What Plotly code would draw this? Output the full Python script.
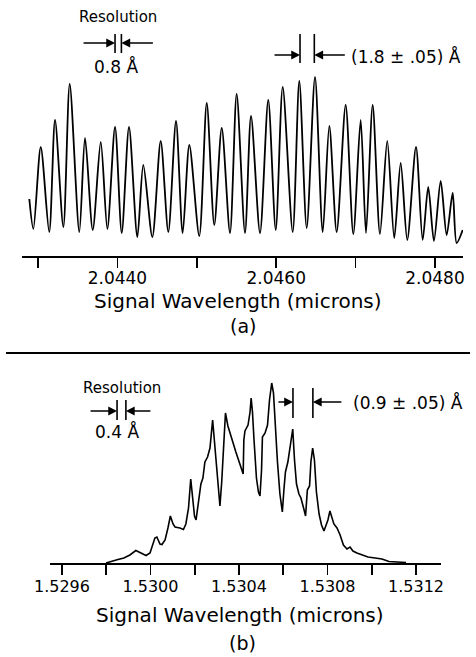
import plotly.graph_objects as go

# ---------------- Panel (a) data: traced spectrum ----------------
wl_a = [2.042890, 2.042941, 2.043034, 2.043141, 2.043214, 2.043319, 2.043399, 2.043520,
        2.043592, 2.043689, 2.043790, 2.043873, 2.043970, 2.044054, 2.044146, 2.044251,
        2.044326, 2.044440, 2.044545, 2.044641, 2.044738, 2.044822, 2.044906, 2.045031,
        2.045125, 2.045220, 2.045314, 2.045418, 2.045502, 2.045607, 2.045683, 2.045796,
        2.045900, 2.045994, 2.046082, 2.046208, 2.046291, 2.046384, 2.046489, 2.046586,
        2.046669, 2.046762, 2.046875, 2.046971, 2.047064, 2.047131, 2.047215, 2.047307,
        2.047399, 2.047487, 2.047568, 2.047651, 2.047761, 2.047845, 2.047915, 2.047987,
        2.048072, 2.048147, 2.048223, 2.048273, 2.048349]
int_a = [57, 27, 109, 24, 136, 29, 172, 24,
         118, 26, 114, 27, 129, 23, 129, 19,
         91, 19, 115, 24, 135, 23, 111, 20,
         153, 31, 128, 23, 162, 23, 140, 23,
         156, 26, 169, 24, 175, 28, 179, 24,
         130, 24, 151, 22, 136, 23, 151, 22,
         115, 18, 93, 16, 109, 16, 69, 15,
         75, 21, 63, 13, 26]

ticks_a = [2.0430, 2.0440, 2.0450, 2.0460, 2.0470, 2.0480]
ticklabels_a = ["", "2.0440", "", "2.0460", "", "2.0480"]
range_a = [2.042798, 2.048353]

# ---------------- Panel (b) data: traced spectrum ----------------
wl_b = [1.529799, 1.529826, 1.529853, 1.529880, 1.529907, 1.529934, 1.529957, 1.529980,
        1.529998, 1.530011, 1.530020, 1.530029, 1.530036, 1.530043, 1.530052, 1.530066,
        1.530079, 1.530090, 1.530102, 1.530111, 1.530133, 1.530149, 1.530160, 1.530172,
        1.530182, 1.530190, 1.530199, 1.530206, 1.530215, 1.530228, 1.530237, 1.530246,
        1.530258, 1.530269, 1.530281, 1.530289, 1.530296, 1.530305, 1.530314, 1.530322,
        1.530330, 1.530339, 1.530350, 1.530364, 1.530375, 1.530386, 1.530398, 1.530409,
        1.530419, 1.530422, 1.530427, 1.530441, 1.530450, 1.530455, 1.530461, 1.530468,
        1.530479, 1.530488, 1.530495, 1.530502, 1.530506, 1.530518, 1.530529, 1.530538,
        1.530548, 1.530556, 1.530565, 1.530574, 1.530585, 1.530596, 1.530603, 1.530610,
        1.530621, 1.530633, 1.530643, 1.530651, 1.530660, 1.530671, 1.530680, 1.530692,
        1.530701, 1.530709, 1.530719, 1.530725, 1.530733, 1.530741, 1.530750, 1.530762,
        1.530773, 1.530784, 1.530793, 1.530802, 1.530811, 1.530820, 1.530829, 1.530843,
        1.530857, 1.530872, 1.530888, 1.530902, 1.530915, 1.530933, 1.530956, 1.530983,
        1.531015, 1.531046, 1.531078, 1.531119, 1.531155]
int_b = [0, 2, 3.5, 5, 8, 12.5, 10, 7.5,
         10, 19, 25, 26, 22, 19, 18.5, 23,
         35, 47, 39, 36, 35, 33.5, 39, 55,
         84, 63, 47, 43, 58, 79, 85, 101,
         106, 115, 143, 123, 106, 79, 57, 81,
         118, 150, 137, 126, 117, 111, 103, 95,
         89, 123, 132, 138, 151, 165, 151, 123,
         85, 71, 67, 93, 126, 130, 138, 163,
         180, 170, 133, 101, 69, 51, 73, 91,
         101, 117, 134, 103, 79, 69, 65, 55,
         47, 73, 77, 101, 115, 103, 71, 49,
         38, 32, 37, 43, 52, 45, 39, 35,
         28, 18, 14, 16, 12, 10, 8, 6,
         5, 4, 1.5, 1, 0.5]

ticks_b = [1.5296, 1.5298, 1.5300, 1.5302, 1.5304, 1.5306, 1.5308, 1.5310, 1.5312]
ticklabels_b = ["1.5296", "", "1.5300", "", "1.5304", "", "1.5308", "", "1.5312"]
range_b = [1.529546, 1.531313]

# annotation values (microns)
res_a_start, res_a = 2.043970, 0.00008      # 0.8 Å
sp_a_start, sp_a = 2.046300, 0.00018        # 1.8 Å
res_b_start, res_b = 1.529849, 0.00004      # 0.4 Å
sp_b_start, sp_b = 1.530644, 0.00009        # 0.9 Å

W, H = 476, 657
FONT = "DejaVu Sans"


def px(x):
    return x / W


def py(y):
    return 1 - y / H


fig = go.Figure()
fig.add_trace(go.Scatter(x=wl_a, y=int_a, mode="lines", xaxis="x", yaxis="y",
                         line=dict(color="black", width=1.8, shape="spline", smoothing=0.8),
                         showlegend=False, hoverinfo="skip"))
fig.add_trace(go.Scatter(x=wl_b, y=int_b, mode="lines", xaxis="x2", yaxis="y2",
                         line=dict(color="black", width=1.6),
                         showlegend=False, hoverinfo="skip"))

axis_common = dict(showline=True, linecolor="black", linewidth=2, ticks="outside",
                   ticklen=10, tickwidth=1.6, tickcolor="black", showgrid=False,
                   zeroline=False, fixedrange=True, automargin=False)

fig.update_layout(
    template="none",
    width=W, height=H, margin=dict(l=0, r=0, t=0, b=0, pad=0), autosize=False,
    paper_bgcolor="white", plot_bgcolor="white",
    font=dict(family=FONT, color="black"),
    xaxis=dict(domain=[px(22), px(463)], range=range_a, anchor="y",
               tickvals=ticks_a, ticktext=ticklabels_a, ticklabelstandoff=-4,
               tickfont=dict(size=17, family=FONT), **axis_common),
    yaxis=dict(domain=[py(256), py(70)], range=[0, 186], visible=False,
               anchor="x", fixedrange=True, automargin=False),
    xaxis2=dict(domain=[px(50), px(441)], range=range_b, anchor="y2",
                tickvals=ticks_b, ticktext=ticklabels_b, ticklabelstandoff=-2,
                tickfont=dict(size=16, family=FONT), **axis_common),
    yaxis2=dict(domain=[py(563), py(378)], range=[0, 185], visible=False,
                anchor="x2", fixedrange=True, automargin=False),
)

shapes = []
annos = []


def bar(xref, xv, y0, y1):
    shapes.append(dict(type="line", xref=xref, yref="paper", x0=xv, x1=xv,
                       y0=py(y0), y1=py(y1), line=dict(color="black", width=1.6)))


def arrow(xref, xv, yv, dx):
    annos.append(dict(xref=xref, yref="paper", x=xv, y=py(yv), ax=dx, ay=0,
                      text="", showarrow=True, arrowhead=2, arrowsize=1.1,
                      arrowwidth=1.6, arrowcolor="black"))


def text(t, x, y, size, xanchor="center"):
    annos.append(dict(xref="paper", yref="paper", x=px(x), y=py(y), text=t,
                      showarrow=False, xanchor=xanchor, yanchor="middle",
                      font=dict(size=size, family=FONT)))


# panel (a) resolution marker
bar("x", res_a_start, 34, 53)
bar("x", res_a_start + res_a, 34, 53)
arrow("x", res_a_start, 43, -33)
arrow("x", res_a_start + res_a, 43, 33)
text("Resolution", 118, 17, 15)
text("0.8 Å", 116, 66, 17)
# panel (a) spacing marker
bar("x", sp_a_start, 34, 63)
bar("x", sp_a_start + sp_a, 34, 63)
arrow("x", sp_a_start, 55, -27)
arrow("x", sp_a_start + sp_a, 55, 32)
text("(1.8 ± .05) Å", 349, 56, 17, xanchor="left")
text("Signal Wavelength (microns)", 238, 301, 20)
text("(a)", 243, 326, 19)

# separator
shapes.append(dict(type="line", xref="paper", yref="paper", x0=px(6), x1=px(470),
                   y0=py(353), y1=py(353), line=dict(color="black", width=2)))

# panel (b) resolution marker
bar("x2", res_b_start, 400, 420)
bar("x2", res_b_start + res_b, 400, 420)
arrow("x2", res_b_start, 411, -28)
arrow("x2", res_b_start + res_b, 411, 26)
text("Resolution", 122, 388, 15)
text("0.4 Å", 117, 431, 17)
# panel (b) spacing marker
bar("x2", sp_b_start, 388, 418)
bar("x2", sp_b_start + sp_b, 388, 418)
arrow("x2", sp_b_start, 402, -16)
arrow("x2", sp_b_start + sp_b, 402, 30)
text("(0.9 ± .05) Å", 351, 402, 17, xanchor="left")
text("Signal Wavelength (microns)", 240, 615, 20)
text("(b)", 243, 643, 19)

fig.update_layout(shapes=shapes, annotations=annos)
fig.write_html("out.html",
               config={"displayModeBar": False, "staticPlot": True},
               post_script="document.body.style.margin='0';"
                           "document.body.style.overflow='hidden';")
